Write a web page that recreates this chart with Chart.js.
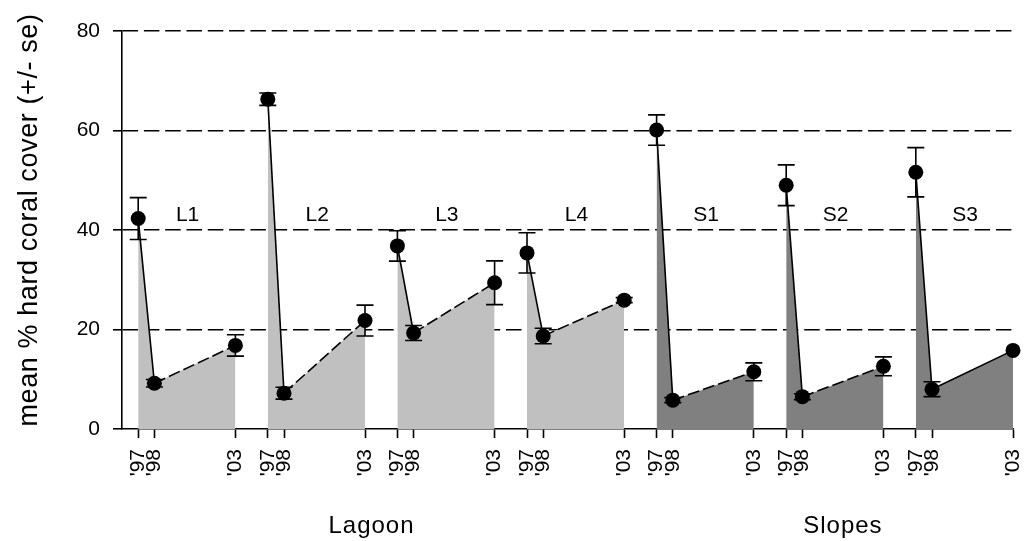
<!DOCTYPE html>
<html>
<head>
<meta charset="utf-8">
<script src="https://cdn.jsdelivr.net/npm/chart.js@4"></script>
<style>
  html, body { margin: 0; padding: 0; background: #fff; }
  canvas { display: block; }
</style>
</head>
<body>
<canvas id="chart" width="1034" height="541"></canvas>
<script>
// Survey sites, grouped by habitat
const sites = ['L1', 'L2', 'L3', 'L4', 'S1', 'S2', 'S3'];
const siteHabitat = ['Lagoon', 'Lagoon', 'Lagoon', 'Lagoon', 'Slopes', 'Slopes', 'Slopes'];
const habitats = ['Lagoon', 'Slopes'];

// Survey years: tick labels and years elapsed since the first survey
const yearLabels = ["'97", "'98", "'03"];
const yearOffsets = [0, 1, 6];
// Each site block starts 8 years further along the axis
const siteStart = [0, 8, 16, 24, 32, 40, 48];

// Mean % hard coral cover per site and year
const cover1997 = [42.3, 66.3, 36.8, 35.4, 60.1, 49.0, 51.6];
const cover1998 = [9.2, 7.2, 19.3, 18.7, 5.8, 6.5, 8.0];
const cover2003 = [16.8, 21.8, 29.4, 25.9, 11.5, 12.6, 15.8];

// Standard errors
const se1997 = [4.2, 1.25, 3.05, 4.05, 3.05, 4.1, 4.95];
const se1998 = [0.75, 1.2, 1.5, 1.55, 0.5, 0.6, 1.5];
const se2003 = [2.15, 3.1, 4.4, 0.5, 1.8, 1.9, 0];

// Y axis ticks
const yTicks = [0, 20, 40, 60, 80];

// ---- styling ----
const FONT = "'Liberation Sans', Arial, Helvetica, sans-serif";
const habitatFill = { Lagoon: '#c0c0c0', Slopes: '#808080' };
const dashedRecovery = [true, true, true, true, true, true, false];

const coverByYear = [cover1997, cover1998, cover2003];
const seByYear = [se1997, se1998, se2003];

const sitePoints = s => yearOffsets.map((off, k) => ({ x: siteStart[s] + off, y: coverByYear[k][s] }));

// Shaded area under each site's profile (drawn underneath)
const areaSets = sites.map((site, s) => ({
  label: site + ' area',
  data: sitePoints(s),
  order: 1,
  fill: 'origin',
  backgroundColor: habitatFill[siteHabitat[s]],
  borderWidth: 0,
  borderColor: 'rgba(0,0,0,0)',
  pointRadius: 0,
  tension: 0
}));

// Profile line with markers and error whiskers
const lineSets = sites.map((site, s) => ({
  label: site,
  data: sitePoints(s),
  errors: yearOffsets.map((off, k) => seByYear[k][s]),
  order: 0,
  fill: false,
  borderColor: '#000',
  borderWidth: 1.6,
  tension: 0,
  pointRadius: 7.5,
  pointHoverRadius: 7.5,
  pointBackgroundColor: '#000',
  pointBorderColor: '#000',
  pointBorderWidth: 0,
  clip: false,
  segment: {
    borderDash: ctx => (ctx.p0DataIndex === 1 && dashedRecovery[s]) ? [12, 4] : undefined
  }
}));

const xTickValues = [];
const xTickText = {};
siteStart.forEach(start => yearOffsets.forEach((off, k) => {
  xTickValues.push(start + off);
  xTickText[start + off] = yearLabels[k];
}));

// Whiskers for +/- one standard error
const errorBars = {
  id: 'errorBars',
  afterDatasetsDraw(chart) {
    const { ctx, scales: { x, y } } = chart;
    ctx.save();
    ctx.strokeStyle = '#000';
    ctx.lineWidth = 1.6;
    chart.data.datasets.forEach(ds => {
      if (!ds.errors) return;
      ds.data.forEach((p, i) => {
        const e = ds.errors[i];
        if (!e) return;
        const px = x.getPixelForValue(p.x);
        const top = y.getPixelForValue(p.y + e);
        const bot = y.getPixelForValue(p.y - e);
        const cap = 8.5;
        ctx.beginPath();
        ctx.moveTo(px, top); ctx.lineTo(px, bot);
        ctx.moveTo(px - cap, top); ctx.lineTo(px + cap, top);
        ctx.moveTo(px - cap, bot); ctx.lineTo(px + cap, bot);
        ctx.stroke();
      });
    });
    ctx.restore();
  }
};

// Site names, habitat names and the y-axis title
const annotations = {
  id: 'annotations',
  afterDraw(chart) {
    const { ctx, scales: { x, y } } = chart;
    ctx.save();
    ctx.fillStyle = '#000';

    ctx.font = `21px ${FONT}`;
    ctx.textAlign = 'center';
    ctx.textBaseline = 'alphabetic';
    sites.forEach((site, s) => {
      ctx.fillText(site, x.getPixelForValue(siteStart[s] + 3.05), y.getPixelForValue(41.8));
    });

    ctx.font = `24px ${FONT}`;
    ctx.letterSpacing = '1px';
    const habitatCentre = { Lagoon: 14.4, Slopes: 43.5 };
    habitats.forEach(h => {
      ctx.fillText(h, x.getPixelForValue(habitatCentre[h]), 532.5);
    });

    ctx.font = `27px ${FONT}`;
    ctx.letterSpacing = '0.6px';
    ctx.translate(37, 220);
    ctx.rotate(-Math.PI / 2);
    ctx.fillText('mean % hard coral cover (+/- se)', 0, 0);
    ctx.restore();
  }
};

new Chart(document.getElementById('chart'), {
  type: 'line',
  data: { datasets: [...areaSets, ...lineSets] },
  options: {
    responsive: false,
    animation: false,
    devicePixelRatio: 1,
    events: [],
    layout: { padding: { left: 0, top: 31, right: 21, bottom: 0 } },
    plugins: { legend: { display: false }, tooltip: { enabled: false } },
    scales: {
      x: {
        type: 'linear',
        min: -1,
        max: 54,
        afterBuildTicks: scale => { scale.ticks = xTickValues.map(v => ({ value: v })); },
        afterFit: scale => {
          scale.height = 112;
          scale.paddingLeft = 0;
          scale.paddingRight = 0;
        },
        ticks: {
          autoSkip: false,
          minRotation: 90,
          maxRotation: 90,
          padding: 11,
          color: '#000',
          font: { family: FONT, size: 21 },
          callback: v => xTickText[v] ?? ''
        },
        grid: {
          drawOnChartArea: false,
          drawTicks: true,
          tickLength: 9,
          tickColor: '#000',
          tickWidth: 1.6
        },
        border: { display: true, color: '#000', width: 1.6 }
      },
      y: {
        min: 0,
        max: 80,
        afterBuildTicks: scale => { scale.ticks = yTicks.map(v => ({ value: v })); },
        afterFit: scale => {
          scale.width = 122;
          scale.paddingTop = 0;
          scale.paddingBottom = 0;
        },
        ticks: {
          padding: 13,
          color: '#000',
          font: { family: FONT, size: 21 }
        },
        grid: {
          color: c => (c.tick && c.tick.value === 0) ? 'rgba(0,0,0,0)' : '#000',
          lineWidth: 1.6,
          tickLength: 9,
          tickColor: '#000',
          tickWidth: 1.6,
          tickBorderDash: []
        },
        border: { display: true, color: '#000', width: 1.6, dash: [15.5, 5.8] }
      }
    }
  },
  plugins: [errorBars, annotations]
});
</script>
</body>
</html>
